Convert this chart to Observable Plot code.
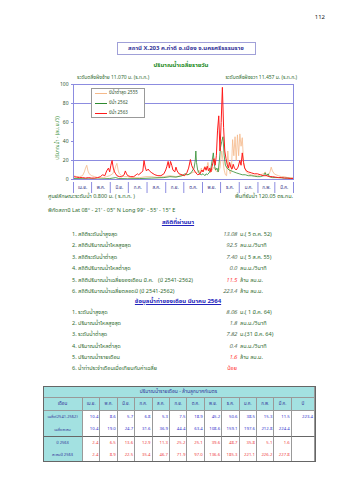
<!DOCTYPE html>
<html><head><meta charset="utf-8">
<script src="https://cdn.jsdelivr.net/npm/d3@7"></script>
<script src="https://cdn.jsdelivr.net/npm/@observablehq/plot@0.6"></script>
<style>
body{margin:0;background:#fff;}
#page{position:relative;width:339px;height:480px;overflow:hidden;font-family:"Noto Sans Thai","Loma","Garuda","Noto Sans","DejaVu Sans",sans-serif;}
.t{position:absolute;white-space:nowrap;line-height:1;}
.c{position:absolute;box-sizing:border-box;display:flex;align-items:center;white-space:nowrap;overflow:hidden;line-height:1;border-right:0.6px solid #999;border-bottom:0.6px solid #999;padding:0 1px;}
#chart{position:absolute;left:0;top:80px;}
</style></head><body><div id="page"><div id="chart"></div></div>
<script>
// ---------- data ----------
const monthNames = ["เม.ย.","พ.ค.","มิ.ย.","ก.ค.","ส.ค.","ก.ย.","ต.ค.","พ.ย.","ธ.ค.","ม.ค.","ก.พ.","มี.ค."];
const monthDays = [30,31,30,31,31,30,31,30,31,31,28,31];
const yTicks = [0,20,40,60,80,100];
const gridValues = [20,80];
const seriesNames = ["ปีน้ำต่ำสุด 2555","ปีน้ำ 2562","ปีน้ำ 2563"];

const lowDays = [0,5,10,15,18,20,22,24,26,30,35,40,45,50,55,60,65,68,70,72,74,76,80,85,90,95,100,110,120,130,140,150,160,170,180,190,200,205,208,210,212,214,218,220,223,225,227,230,233,236,240,243,246,248,250,252,254,256,258,260,262,264,266,268,270,272,274,276,278,280,282,284,287,290,295,300,305,310,315,318,320,323,326,328,330,333,336,340,345,350,355,364];
const lowQ    = [4,3,3,4,8,12,15,9,6,4,3,2,2,2,3,4,6,10,14,17,10,6,4,3,3,2,2,2,3,3,2,3,4,3,4,5,8,7,10,6,12,8,14,9,18,11,7,10,13,9,8,12,30,20,10,5,4,30,12,6,10,42,25,45,20,47,25,48,35,44,20,12,8,6,5,4,4,5,6,8,5,4,8,13,9,6,5,4,3,3,2,2];

const y62Days = [0,20,40,60,70,75,90,110,130,150,160,170,180,185,190,195,198,200,202,203,204,206,209,212,215,218,220,222,225,228,230,232,234,236,238,240,242,244,246,248,250,252,255,258,262,266,270,275,280,285,290,295,300,305,310,315,318,320,323,325,330,340,350,364];
const y62Q    = [1,0.8,0.5,1,2,1,0.8,1,1.5,2,3,2.5,4,6,5,7,10,12,20,30,18,10,6,5,6,4,6,5,7,12,20,28,14,10,12,8,20,34,40,45,25,15,12,10,9,8,7,6,5,5,4,4,3.5,3,3,4,7,4,6,3,2,2,1.5,1];

const y63Days = [0,5,10,15,20,25,30,35,40,45,48,52,55,58,60,62,64,66,68,70,72,76,80,84,86,88,90,95,100,104,106,108,112,115,117,119,121,124,126,130,135,140,145,150,153,155,157,159,161,163,165,168,170,172,175,180,184,188,191,194,196,198,200,203,206,210,213,215,218,220,222,224,226,228,230,233,235,237,239,241,243,245,247,249,251,253,255,257,259,261,263,265,267,270,273,276,278,280,282,284,287,290,295,300,305,310,315,320,325,330,335,340,345,350,355,360,364];
const y63Q    = [3,2.5,2,2,1.5,2,1.5,1.5,2,3,5,4,9,12,8,15,20,12,8,6,4,3,3,5,9,6,4,3,3,5,6,5,7,9,20,13,9,11,9,7,5,4,4,6,10,14,19,12,19,15,10,8,13,9,6,5,4,7,12,21,15,12,10,7,5,6,10,8,13,10,14,9,12,8,14,22,15,25,52,67,30,60,97,55,30,22,16,12,18,13,11,16,12,10,13,20,15,28,18,12,9,8,7,6,6,5,4,4,3,3,2.5,2,2,1.5,1.5,1,1];

// table values
const tableTitle = "ปริมาณน้ำรายเดือน - ล้านลูกบาศก์เมตร";
const tableMonths = ["เม.ย.","พ.ค.","มิ.ย.","ก.ค.","ส.ค.","ก.ย.","ต.ค.","พ.ย.","ธ.ค.","ม.ค.","ก.พ.","มี.ค."];
const avgMonthly = [10.4,8.6,5.7,6.8,5.3,7.5,18.9,45.2,50.6,38.5,15.3,11.5];
const avgAnnual = 223.4;
const avgCumulative = [10.4,19.0,24.7,31.6,36.9,44.4,63.4,108.6,159.1,197.6,212.8,224.4];
const y63Monthly = [2.4,6.5,13.6,12.9,11.3,25.2,25.1,39.6,48.7,35.8,5.1,1.6];
const y63Cumulative = [2.4,8.9,22.5,35.4,46.7,71.9,97.0,136.6,185.3,221.1,226.2,227.8];
const rowLabels = ["เฉลี่ย(2541-2562)","เฉลี่ยสะสม","ปี 2563","สะสมปี 2563"];

// statistics text
const statLabels = ["1. สถิติระดับน้ำสูงสุด","2. สถิติปริมาณน้ำไหลสูงสุด","3. สถิติระดับน้ำต่ำสุด","4. สถิติปริมาณน้ำไหลต่ำสุด","5. สถิติปริมาณน้ำเฉลี่ยของเดือน มี.ค.","6. สถิติปริมาณน้ำเฉลี่ยตลอดปี (ปี 2541-2562)"];
const statValues = ["13.08","92.5","7.40","0.0","11.5","223.4"];
const statUnits = ["ม.( 5 ต.ค. 52)","ลบ.ม./วินาที","ม.( 5 ส.ค. 55)","ลบ.ม./วินาที","ล้าน ลบ.ม.","ล้าน ลบ.ม."];
const monLabels = ["1. ระดับน้ำสูงสุด","2. ปริมาณน้ำไหลสูงสุด","3. ระดับน้ำต่ำสุด","4. ปริมาณน้ำไหลต่ำสุด","5. ปริมาณน้ำรายเดือน","6. น้ำท่าประจำเดือนเมื่อเทียบกับค่าเฉลี่ย"];
const monValues = ["8.06","1.8","7.82","0.4","1.6","น้อย"];
const monUnits = ["ม.( 1 มี.ค. 64)","ลบ.ม./วินาที","ม.(31 มี.ค. 64)","ลบ.ม./วินาที","ล้าน ลบ.ม.",""];

// ---------- build ----------
const FONT = '"Noto Sans Thai","Loma","Garuda","Noto Sans","DejaVu Sans",sans-serif';
const page = document.getElementById("page");
function txt(s, x, y, o = {}) {
  const d = document.createElement("div");
  d.className = "t";
  d.textContent = s;
  d.style.left = x + "px";
  d.style.top = y + "px";
  const ax = o.anchor === "middle" ? "-50%" : o.anchor === "end" ? "-100%" : "0";
  d.style.transform = `translate(${ax},-50%)` + (o.rotate ? ` rotate(${o.rotate}deg)` : "");
  d.style.fontSize = (o.size || 6) + "px";
  d.style.color = o.color || "#2f6b2f";
  if (o.bold) d.style.fontWeight = "bold";
  if (o.italic) d.style.fontStyle = "italic";
  if (o.underline) d.style.textDecoration = "underline";
  page.appendChild(d);
  return d;
}

const toRows = (days, q) => days.map((d, i) => ({d, q: q[i]}));
const lowData = toRows(lowDays, lowQ);
const d62 = toRows(y62Days, y62Q);
const d63 = toRows(y63Days, y63Q);
const colors = ["#f5b98a", "#2e8b2e", "#ff1a1a"];

const bounds = [0, ...d3.cumsum(monthDays)];
const mids = monthDays.map((m, i) => bounds[i] + m / 2);
const midName = new Map(mids.map((m, i) => [m, monthNames[i]]));
const lav = "#8c8ce0";

const chart = Plot.plot({
  width: 339, height: 117,
  marginLeft: 73, marginRight: 46, marginTop: 4, marginBottom: 18,
  x: {domain: [0, 365], axis: null},
  y: {domain: [0, 100], axis: null},
  style: {fontFamily: FONT, background: "transparent", overflow: "visible"},
  marks: [
    Plot.ruleY(gridValues, {stroke: lav, strokeWidth: 1}),
    Plot.line(lowData, {x: "d", y: "q", stroke: colors[0], strokeWidth: 0.8}),
    Plot.line(d62, {x: "d", y: "q", stroke: colors[1], strokeWidth: 0.8}),
    Plot.line(d63, {x: "d", y: "q", stroke: colors[2], strokeWidth: 1}),
    Plot.frame({stroke: lav}),
    Plot.axisY({ticks: yTicks, tickSize: 2, tickPadding: 3, fontSize: 5, fill: "#335533", stroke: lav, label: null}),
    Plot.axisX({ticks: bounds, tickSize: 11, tickFormat: () => "", stroke: lav, dy: 3, label: null}),
    Plot.axisX({ticks: mids, tickSize: 0, tickPadding: 6, tickFormat: d => midName.get(d), fontSize: 4.5, fill: "#333388", label: null})
  ]
});
document.getElementById("chart").appendChild(chart);

// legend
const lg = document.createElement("div");
Object.assign(lg.style, {position: "absolute", left: "91px", top: "88px", width: "54px", height: "30px", border: "1px solid #999", background: "#fff", boxSizing: "border-box"});
page.appendChild(lg);
seriesNames.forEach((n, i) => {
  const y = 93 + i * 10;
  const ln = document.createElement("div");
  Object.assign(ln.style, {position: "absolute", left: "95px", top: (y - 0.5) + "px", width: "12px", height: "1px", background: colors[i]});
  page.appendChild(ln);
  txt(n, 109, y, {size: 4.5, color: "#335533"});
});

// page number and titles
txt("112", 325, 18, {size: 6, color: "#222", anchor: "end"});
const box = document.createElement("div");
Object.assign(box.style, {position: "absolute", left: "117px", top: "42px", width: "139px", height: "13px", border: "1px solid #a0a0d8", boxSizing: "border-box"});
page.appendChild(box);
txt("สถานี X.203 ค.ท่าดี อ.เมือง จ.นครศรีธรรมราช", 186, 48.5, {size: 6, bold: true, color: "#333399", anchor: "middle"});
txt("ปริมาณน้ำเฉลี่ยรายวัน", 181, 66, {size: 6, bold: true, color: "#1a8a1a", anchor: "middle"});
txt("ระดับตลิ่งฝั่งซ้าย 11.070 ม. (ร.ท.ก.)", 77, 77, {size: 5, color: "#2f6b2f"});
txt("ระดับตลิ่งฝั่งขวา 11.457 ม. (ร.ท.ก.)", 297, 77, {size: 5, color: "#2f6b2f", anchor: "end"});
txt("ปริมาณน้ำ - (ลบ.ม./วิ)", 57, 138, {size: 5, color: "#2f8b2f", anchor: "middle", rotate: -90});

// below chart
txt("ศูนย์ลักษณะระดับน้ำ 0.800 ม. ( ร.ท.ก. )", 48, 197, {size: 5.5});
txt("พื้นที่รับน้ำ 120.05 ตร.กม.", 293, 197, {size: 5.5, anchor: "end"});
txt("พิกัดสถานี Lat 08° - 21' - 05\" N Long 99° - 55' - 15\" E", 48, 211, {size: 5.5});
txt("สถิติที่ผ่านมา", 178, 223, {size: 6, bold: true, underline: true, color: "#2222bb", anchor: "middle"});
statLabels.forEach((s, i) => {
  const y = 235 + i * 11.4;
  txt(s, 72, y, {size: 5.5});
  txt(statValues[i], 237, y, {size: 5.5, italic: true, anchor: "end", color: i === 4 ? "#ff3333" : "#4d6b4d"});
  txt(statUnits[i], 240, y, {size: 5.5});
});
txt("(ปี 2541-2562)", 158, 235 + 4 * 11.4, {size: 5.5});
txt("ข้อมูลน้ำท่าของเดือน มีนาคม 2564", 178, 302, {size: 6, bold: true, underline: true, color: "#2222bb", anchor: "middle"});
monLabels.forEach((s, i) => {
  const y = 313 + i * 11.2;
  txt(s, 72, y, {size: 5.5});
  txt(monValues[i], 237, y, {size: 5.5, italic: i < 5, anchor: "end", color: i >= 4 ? "#ff3333" : "#4d6b4d"});
  if (monUnits[i]) txt(monUnits[i], 240, y, {size: 5.5});
});

// table (absolute grid)
const cyan = "#a3e1e1";
const colEdges = [43, 83];
for (let i = 1; i <= 12; i++) colEdges.push(83 + i * 17.4);
colEdges.push(315);
const rowEdges = [386, 398, 411, 423.5, 436.5, 449, 461];
function cellDiv(s, x0, x1, y0, y1, st) {
  const d = document.createElement("div");
  d.className = "c";
  d.textContent = s;
  Object.assign(d.style, {left: x0 + "px", top: y0 + "px", width: (x1 - x0) + "px", height: (y1 - y0) + "px", fontSize: "4.3px", justifyContent: "flex-end"}, st);
  page.appendChild(d);
}
cellDiv(tableTitle, colEdges[0], colEdges[14], rowEdges[0], rowEdges[1], {background: cyan, color: "#333399", justifyContent: "center", fontSize: "5px"});
cellDiv("เดือน", colEdges[0], colEdges[1], rowEdges[1], rowEdges[2], {background: cyan, color: "#333399", justifyContent: "center", fontSize: "4.6px"});
tableMonths.forEach((m, i) => cellDiv(m, colEdges[i + 1], colEdges[i + 2], rowEdges[1], rowEdges[2], {background: cyan, color: "#333399", justifyContent: "center", fontSize: "4.3px"}));
cellDiv("ปี", colEdges[13], colEdges[14], rowEdges[1], rowEdges[2], {background: cyan, color: "#333399", justifyContent: "center", fontSize: "4.6px"});
const rows = [[avgMonthly, avgAnnual, "#3333cc"], [avgCumulative, null, "#3333cc"], [y63Monthly, null, "#ee4444"], [y63Cumulative, null, "#ee4444"]];
rows.forEach(([vals, ann, col], r) => {
  const y0 = rowEdges[r + 2], y1 = rowEdges[r + 3];
  const bb = r === 1 ? {borderBottom: "1px solid #666"} : {borderBottom: "none"};
  cellDiv(rowLabels[r], colEdges[0], colEdges[1], y0, y1, Object.assign({background: cyan, color: "#333399", justifyContent: "center", fontSize: "4px", padding: "0"}, bb));
  vals.forEach((v, i) => cellDiv(v.toFixed(1), colEdges[i + 1], colEdges[i + 2], y0, y1, Object.assign({color: col}, bb)));
  cellDiv(ann == null ? "" : ann.toFixed(1), colEdges[13], colEdges[14], y0, y1, Object.assign({color: col}, bb));
});
const outer = document.createElement("div");
Object.assign(outer.style, {position: "absolute", left: (colEdges[0] - 0.5) + "px", top: (rowEdges[0] - 0.5) + "px", width: (colEdges[14] - colEdges[0] + 1) + "px", height: (rowEdges[6] - rowEdges[0] + 1) + "px", border: "1.3px solid #666", boxSizing: "border-box"});
page.appendChild(outer);
</script></body></html>
